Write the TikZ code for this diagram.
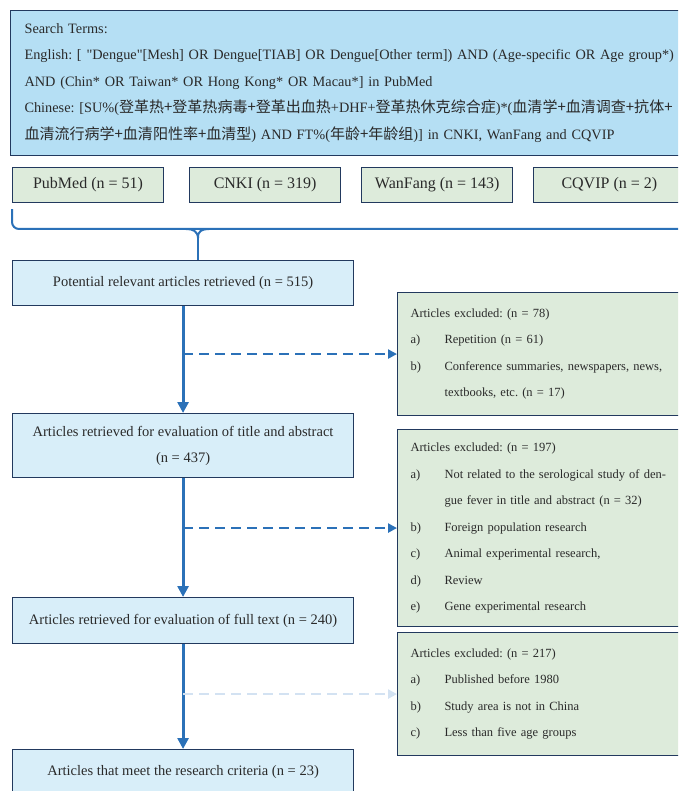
\documentclass[tikz,border=0pt]{standalone}
\usepackage{fontspec}
\setmainfont{Liberation Serif}[Ligatures=TeXOff]
\newfontfamily\cjk{Noto Sans CJK SC}[Scale=1.05]
\usepackage{xcolor}
\usetikzlibrary{positioning, arrows.meta}
\definecolor{flowblue}{HTML}{2B71B8}
\definecolor{paleblue}{HTML}{D3E2F2}
\definecolor{boxline}{HTML}{22395E}
\definecolor{stepfill}{HTML}{D8EEF9}
\definecolor{exclfill}{HTML}{DDEBDB}
\definecolor{termfill}{HTML}{B5DFF4}
\definecolor{inktext}{HTML}{2A2A2A}
\newcommand{\zh}[1]{{\cjk #1}}
\newcommand{\itm}[2]{\makebox[34pt][l]{#1}#2}
\frenchspacing

\begin{document}
\begin{tikzpicture}[
    x=1pt, y=-1pt,
    every node/.style={text=inktext, font=\fontsize{12.5}{26.5}\selectfont},
    box/.style={draw=boxline, line width=1.1pt, inner sep=0pt, anchor=north west, align=center},
    stepbox/.style={box, fill=stepfill, minimum width=341pt, font=\fontsize{14.5}{26}\selectfont},
    dbbox/.style={box, fill=exclfill, minimum width=151pt, minimum height=35pt, font=\fontsize{16}{19}\selectfont},
    exclbox/.style={box, fill=exclfill, minimum width=300pt, text width=274pt, inner xsep=13pt, align=left},
    arr/.style={-{Triangle[length=11pt, width=11pt]}, flowblue, line width=3pt},
    dasharr/.style={-{Triangle[length=9pt, width=9pt]}, flowblue, line width=2.5pt, dash pattern=on 10pt off 6pt},
    bracel/.style={flowblue, line width=2pt}
  ]
    \clip (0,0) rectangle (678,791);

    \node[box, fill=termfill, minimum width=720pt, minimum height=145pt, text width=692pt, inner xsep=14pt, align=left,
          font=\fontsize{14.3}{26.5}\selectfont] (terms) at (10,10)
      {Search Terms:\\
       English: [ "Dengue"[Mesh] OR Dengue[TIAB] OR Dengue[Other term]) AND (Age-specific OR Age group*)\\
       AND (Chin* OR Taiwan* OR Hong Kong* OR Macau*] in PubMed\\
       Chinese: [SU\%(\zh{登革热+登革热病毒+登革出血热}+DHF+\zh{登革热休克综合症})*(\zh{血清学+血清调查+抗体+}\\
       \zh{血清流行病学+血清阳性率+血清型}) AND FT\%(\zh{年龄+年龄组})] in CNKI, WanFang and CQVIP};

    \node[dbbox] (pubmed) at (12,167) {PubMed (n = 51)};
    \node[dbbox, right=25pt of pubmed] (cnki) {CNKI (n = 319)};
    \node[dbbox, right=20pt of cnki] (wanfang) {WanFang (n = 143)};
    \node[dbbox, right=20pt of wanfang] (cqvip) {CQVIP (n = 2)};

    \node[stepbox, minimum height=45pt] (found) at (12,260) {Potential relevant articles retrieved (n = 515)};
    \node[stepbox, minimum height=64pt] (titleabs) at (12,413) {Articles retrieved for evaluation of title and abstract\\(n = 437)};
    \node[stepbox, minimum height=46pt] (fulltext) at (12,597) {Articles retrieved for evaluation of full text (n = 240)};
    \node[stepbox, minimum height=45pt] (final) at (12,749) {Articles that meet the research criteria (n = 23)};

    \node[exclbox, minimum height=123pt] (exclone) at (397,292)
      {Articles excluded: (n = 78)\\
       \itm{a)}{Repetition (n = 61)}\\
       \itm{b)}{Conference summaries, newspapers, news,}\\
       \hspace*{34pt}textbooks, etc. (n = 17)};
    \node[exclbox, minimum height=197pt] (excltwo) at (397,429)
      {Articles excluded: (n = 197)\\
       \itm{a)}{Not related to the serological study of den-}\\
       \hspace*{34pt}gue fever in title and abstract (n = 32)\\
       \itm{b)}{Foreign population research}\\
       \itm{c)}{Animal experimental research,}\\
       \itm{d)}{Review}\\
       \itm{e)}{Gene experimental research}};
    \node[exclbox, minimum height=123pt] (exclthree) at (397,632)
      {Articles excluded: (n = 217)\\
       \itm{a)}{Published before 1980}\\
       \itm{b)}{Study area is not in China}\\
       \itm{c)}{Less than five age groups}};

    \draw[bracel, rounded corners=7pt] ([yshift=-6pt]pubmed.south west) |- (700,229);
    \draw[bracel] ([xshift=15pt]found.north) -- ++(0,-22) coordinate (tip);
    \draw[bracel] (tip) .. controls (197.5,231) and (193,229) .. (186,229);
    \draw[bracel] (tip) .. controls (197.5,231) and (202,229) .. (209,229);

    \draw[arr] (found) -- (titleabs);
    \draw[arr] (titleabs) -- (fulltext);
    \draw[arr] (fulltext) -- (final);
    \draw[dasharr] (found.south |- exclone.west) -- (exclone.west);
    \draw[dasharr] (found.south |- excltwo.west) -- (excltwo.west);
    \draw[dasharr, paleblue] (found.south |- exclthree.west) -- (exclthree.west);
  \end{tikzpicture}
\end{document}
